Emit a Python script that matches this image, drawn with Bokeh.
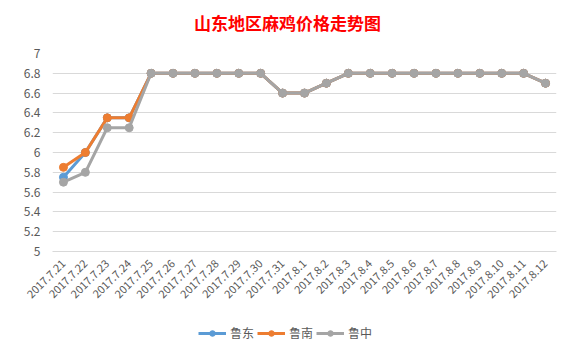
import math
from bokeh.plotting import figure
from bokeh.layouts import column
from bokeh.models import (FactorRange, Range1d, FixedTicker, CustomJSTickFormatter,
                          Legend, LegendItem, Label)
from bokeh.embed import file_html
from bokeh.resources import INLINE

dates = ["2017.7.21", "2017.7.22", "2017.7.23", "2017.7.24", "2017.7.25", "2017.7.26",
         "2017.7.27", "2017.7.28", "2017.7.29", "2017.7.30", "2017.7.31", "2017.8.1",
         "2017.8.2", "2017.8.3", "2017.8.4", "2017.8.5", "2017.8.6", "2017.8.7",
         "2017.8.8", "2017.8.9", "2017.8.10", "2017.8.11", "2017.8.12"]
ludong = [5.75, 6.0, 6.35, 6.35, 6.8, 6.8, 6.8, 6.8, 6.8, 6.8, 6.6, 6.6,
          6.7, 6.8, 6.8, 6.8, 6.8, 6.8, 6.8, 6.8, 6.8, 6.8, 6.7]
lunan = [5.85, 6.0, 6.35, 6.35, 6.8, 6.8, 6.8, 6.8, 6.8, 6.8, 6.6, 6.6,
         6.7, 6.8, 6.8, 6.8, 6.8, 6.8, 6.8, 6.8, 6.8, 6.8, 6.7]
luzhong = [5.7, 5.8, 6.25, 6.25, 6.8, 6.8, 6.8, 6.8, 6.8, 6.8, 6.6, 6.6,
           6.7, 6.8, 6.8, 6.8, 6.8, 6.8, 6.8, 6.8, 6.8, 6.8, 6.7]
series_names = ["鲁东", "鲁南", "鲁中"]
y_ticks = [5, 5.2, 5.4, 5.6, 5.8, 6, 6.2, 6.4, 6.6, 6.8, 7]
title_text = "山东地区麻鸡价格走势图"

colors = ["#5B9BD5", "#ED7D31", "#A5A5A5"]
FONT = "Noto Sans CJK SC"
LABEL = "#595959"
W = 574
FL, FW = 52, 504   # frame left / width (column aligns the frames of all three)


def strip(height, x_range, y_range):
    f = figure(width=W, height=height, x_range=x_range, y_range=y_range,
               output_backend="svg", toolbar_location=None,
               min_border=0, min_border_left=0, min_border_right=0,
               min_border_top=0, min_border_bottom=0)
    f.axis.visible = False
    f.grid.visible = False
    f.outline_line_color = None
    return f


# --- title strip ---
top = strip(40, Range1d(FL, FL + FW), Range1d(0, 40))
top.add_layout(Label(x=W / 2, y=18, text=title_text, text_align="center",
                     text_baseline="middle", text_color="#FF0000", text_font=FONT,
                     text_font_size="17px", text_font_style="bold"))

# --- main chart ---
p = figure(width=W, height=278, frame_width=FW, frame_height=198,
           x_range=FactorRange(*dates), y_range=Range1d(5, 7),
           output_backend="svg", toolbar_location=None,
           min_border_left=FL, min_border_right=W - FL - FW, min_border_top=13,
           min_border_bottom=67)
p.outline_line_color = None

p.yaxis.ticker = FixedTicker(ticks=y_ticks)
p.yaxis.formatter = CustomJSTickFormatter(code="return tick.toFixed(1).replace(/\\.0$/, '');")
p.yaxis.axis_line_color = None
p.yaxis.major_tick_line_color = None
p.yaxis.minor_tick_line_color = None
p.yaxis.major_label_text_color = LABEL
p.yaxis.major_label_text_font = FONT
p.yaxis.major_label_text_font_size = "12px"
p.yaxis.major_label_standoff = 6

p.xaxis.axis_line_color = "#D9D9D9"
p.xaxis.major_tick_line_color = None
p.xaxis.minor_tick_line_color = None
p.xaxis.major_label_orientation = math.pi / 4
p.xaxis.major_label_text_color = LABEL
p.xaxis.major_label_text_font = FONT
p.xaxis.major_label_text_font_size = "11px"
p.xaxis.major_label_standoff = 4

p.xgrid.grid_line_color = None
p.ygrid.grid_line_color = "#D9D9D9"
p.ygrid.grid_line_width = 1

for vals, c in zip([ludong, lunan, luzhong], colors):
    p.line(dates, vals, line_color=c, line_width=3)
    p.scatter(dates, vals, marker="circle", size=8, fill_color=c, line_color=c)

# --- legend strip (same series, drawn outside its visible range; only the legend shows) ---
bot = strip(38, FactorRange(*dates), Range1d(100, 101))
items = []
for name, vals, c in zip(series_names, [ludong, lunan, luzhong], colors):
    l = bot.line(dates, vals, line_color=c, line_width=3)
    s = bot.scatter(dates, vals, marker="circle", size=8, fill_color=c, line_color=c)
    items.append(LegendItem(label=name, renderers=[l, s]))
legend = Legend(items=items, orientation="horizontal", location=(146, 15),
                label_text_font=FONT, label_text_color=LABEL, label_text_font_size="12px",
                border_line_color=None, background_fill_alpha=0,
                glyph_width=28, glyph_height=14, label_standoff=4, spacing=3,
                padding=2, margin=0)
bot.add_layout(legend, "center")

layout = column(top, p, bot, spacing=0)

open("out.html", "w").write(file_html(layout, INLINE))
